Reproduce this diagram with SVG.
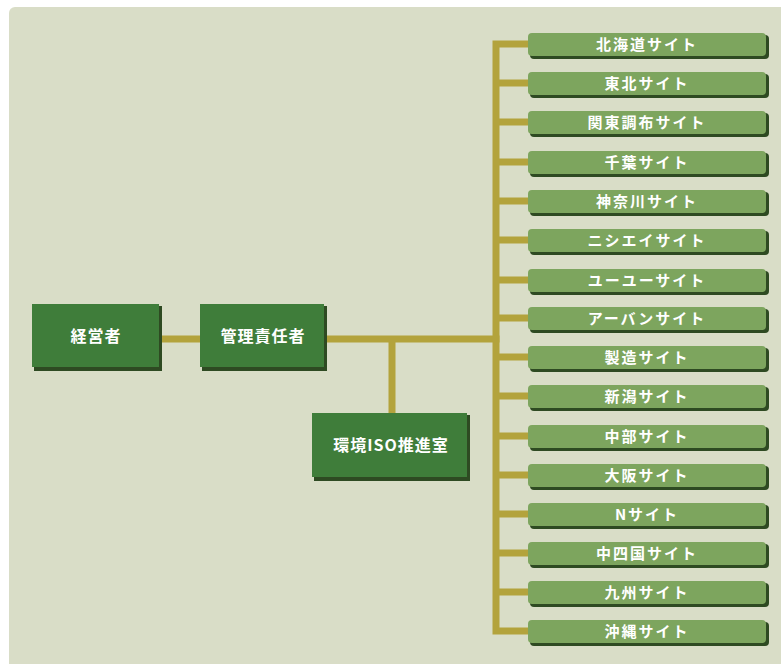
<svg xmlns="http://www.w3.org/2000/svg" width="781" height="664" viewBox="0 0 781 664">
<style>
.bg{fill:#d9ddc7}
.ln{stroke:#b3a33c;stroke-width:7;fill:none;stroke-linecap:square}
.sh{fill:#2e4a22}
.dk{fill:#3f7d3a}
.lt{fill:#7da55e}
.t{fill:#ffffff;font-family:"Noto Sans CJK JP","Noto Sans",sans-serif;font-size:16px;font-weight:bold;letter-spacing:1px;text-anchor:middle}
.ts{fill:#ffffff;font-family:"Noto Sans CJK JP","Noto Sans",sans-serif;font-size:15px;font-weight:bold;letter-spacing:2px;text-anchor:middle}
</style>
<rect x="0" y="0" width="781" height="664" fill="#ffffff"/>
<rect class="bg" x="9" y="7" width="780" height="670" rx="6"/>
<g id="connectors">
<path class="ln" d="M160 339H200M325 339H496M392 339V413"/>
<path class="ln" d="M496 44V631M496 44H530M496 83H530M496 122H530M496 162H530M496 201H530M496 240H530M496 280H530M496 318H530M496 357H530M496 396H530M496 436H530M496 475H530M496 514H530M496 553H530M496 592H530M496 631H530"/>
</g>
<g id="n-keiei"><rect class="sh" x="34" y="306" width="128" height="65"/><rect class="dk" x="32" y="304" width="127" height="63"/><text class="t" x="96" y="342">経営者</text></g>
<g id="n-kanri"><rect class="sh" x="202" y="306" width="125" height="65"/><rect class="dk" x="200" y="304" width="124" height="63"/><text class="t" x="263" y="342">管理責任者</text></g>
<g id="n-iso"><rect class="sh" x="314" y="415" width="156" height="66"/><rect class="dk" x="312" y="413" width="155" height="64"/><text class="t" x="391" y="451">環境ISO推進室</text></g>
<g id="sites">
<g id="s1"><rect class="sh" x="530" y="35" width="239" height="24" rx="4"/><rect class="lt" x="528" y="33" width="238" height="23" rx="4"/><text class="ts" x="647" y="50">北海道サイト</text></g>
<g id="s2"><rect class="sh" x="530" y="74" width="239" height="24" rx="4"/><rect class="lt" x="528" y="72" width="238" height="23" rx="4"/><text class="ts" x="647" y="89">東北サイト</text></g>
<g id="s3"><rect class="sh" x="530" y="113" width="239" height="24" rx="4"/><rect class="lt" x="528" y="111" width="238" height="23" rx="4"/><text class="ts" x="647" y="128">関東調布サイト</text></g>
<g id="s4"><rect class="sh" x="530" y="153" width="239" height="24" rx="4"/><rect class="lt" x="528" y="151" width="238" height="23" rx="4"/><text class="ts" x="647" y="168">千葉サイト</text></g>
<g id="s5"><rect class="sh" x="530" y="192" width="239" height="24" rx="4"/><rect class="lt" x="528" y="190" width="238" height="23" rx="4"/><text class="ts" x="647" y="207">神奈川サイト</text></g>
<g id="s6"><rect class="sh" x="530" y="231" width="239" height="24" rx="4"/><rect class="lt" x="528" y="229" width="238" height="23" rx="4"/><text class="ts" x="647" y="246">ニシエイサイト</text></g>
<g id="s7"><rect class="sh" x="530" y="271" width="239" height="24" rx="4"/><rect class="lt" x="528" y="269" width="238" height="23" rx="4"/><text class="ts" x="647" y="286">ユーユーサイト</text></g>
<g id="s8"><rect class="sh" x="530" y="309" width="239" height="24" rx="4"/><rect class="lt" x="528" y="307" width="238" height="23" rx="4"/><text class="ts" x="647" y="324">アーバンサイト</text></g>
<g id="s9"><rect class="sh" x="530" y="348" width="239" height="24" rx="4"/><rect class="lt" x="528" y="346" width="238" height="23" rx="4"/><text class="ts" x="647" y="363">製造サイト</text></g>
<g id="s10"><rect class="sh" x="530" y="387" width="239" height="24" rx="4"/><rect class="lt" x="528" y="385" width="238" height="23" rx="4"/><text class="ts" x="647" y="402">新潟サイト</text></g>
<g id="s11"><rect class="sh" x="530" y="427" width="239" height="24" rx="4"/><rect class="lt" x="528" y="425" width="238" height="23" rx="4"/><text class="ts" x="647" y="442">中部サイト</text></g>
<g id="s12"><rect class="sh" x="530" y="466" width="239" height="24" rx="4"/><rect class="lt" x="528" y="464" width="238" height="23" rx="4"/><text class="ts" x="647" y="481">大阪サイト</text></g>
<g id="s13"><rect class="sh" x="530" y="505" width="239" height="24" rx="4"/><rect class="lt" x="528" y="503" width="238" height="23" rx="4"/><text class="ts" x="647" y="520">Nサイト</text></g>
<g id="s14"><rect class="sh" x="530" y="544" width="239" height="24" rx="4"/><rect class="lt" x="528" y="542" width="238" height="23" rx="4"/><text class="ts" x="647" y="559">中四国サイト</text></g>
<g id="s15"><rect class="sh" x="530" y="583" width="239" height="24" rx="4"/><rect class="lt" x="528" y="581" width="238" height="23" rx="4"/><text class="ts" x="647" y="598">九州サイト</text></g>
<g id="s16"><rect class="sh" x="530" y="622" width="239" height="24" rx="4"/><rect class="lt" x="528" y="620" width="238" height="23" rx="4"/><text class="ts" x="647" y="637">沖縄サイト</text></g>
</g>
</svg>
